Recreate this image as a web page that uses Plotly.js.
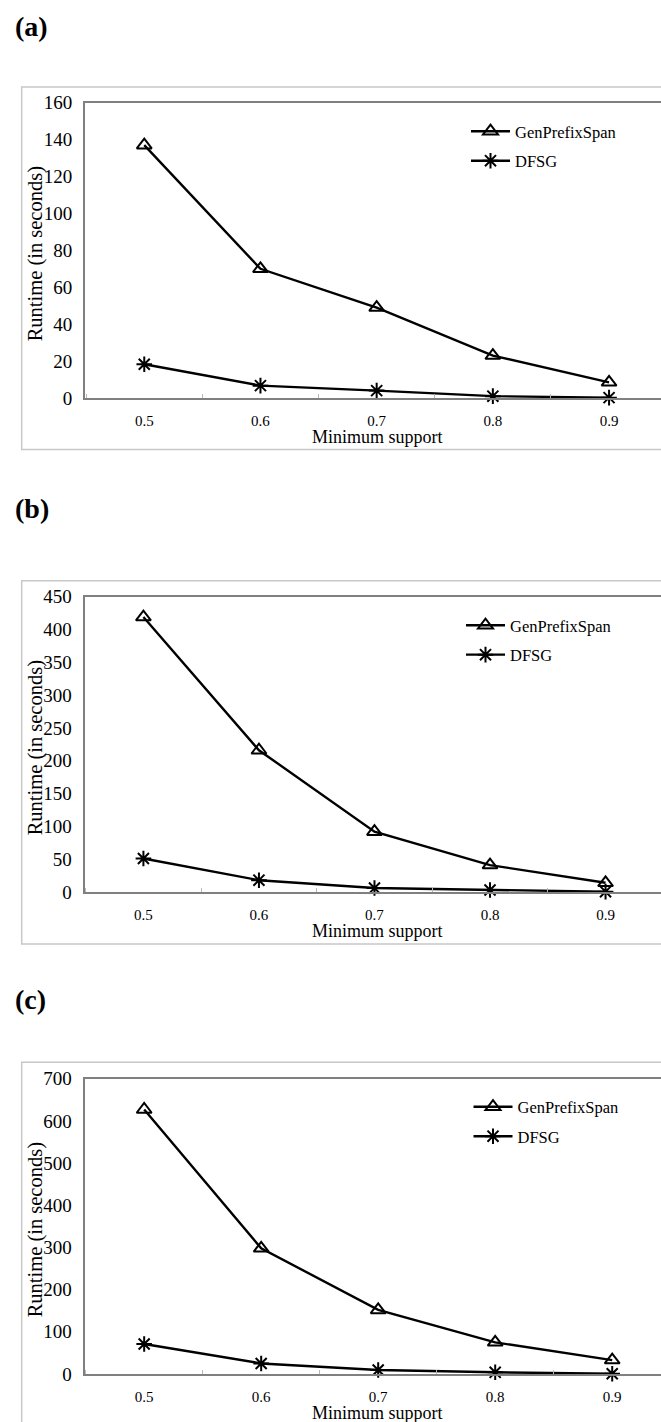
<!DOCTYPE html>
<html>
<head>
<meta charset="utf-8">
<script src="https://cdn.plot.ly/plotly-3.0.1.min.js"></script>
<style>
  html, body { margin: 0; padding: 0; background: #fff; }
  #chart { width: 661px; height: 1422px; }
</style>
</head>
<body>
<div id="chart"></div>
<script>
// ---- data ----
const categories = ['0.5', '0.6', '0.7', '0.8', '0.9'];
const seriesNames = ['GenPrefixSpan', 'DFSG'];
const genPrefixSpanA = [137, 70, 49, 23, 8.5];
const dfsgA = [18.3, 6.7, 4, 1, 0.2];
const genPrefixSpanB = [419, 216, 92, 41, 14];
const dfsgB = [51, 18, 6, 3, 0.5];
const genPrefixSpanC = [627, 298, 152, 75, 33];
const dfsgC = [71, 25, 9.5, 4, 0.5];
const panelLabels = ['(a)', '(b)', '(c)'];
const yMaxes = [160, 450, 700];
const yTickSteps = [20, 50, 100];
const xTitle = 'Minimum support';
const yTitle = 'Runtime (in seconds)';

// ---- layout helpers (pixel -> paper) ----
const W = 661, H = 1422;
const px = v => v / W;
const py = v => 1 - v / H;
const FONT = 'Liberation Serif';

const seriesData = [
  [genPrefixSpanA, dfsgA],
  [genPrefixSpanB, dfsgB],
  [genPrefixSpanC, dfsgC]
];

// panel geometry in pixels
const panels = [
  { left: 85,   top: 102.7,  bottom: 398,  xr: [-0.51, 4.447], frameTop: 87,    frameBottom: 449.5, labelY: 26.5, legX: 466,   legY: 114 },
  { left: 84.5, top: 596.7,  bottom: 892,  xr: [-0.51, 4.48],  frameTop: 580.7, frameBottom: 944,   labelY: 508,  legX: 461,   legY: 608 },
  { left: 84.5, top: 1078.7, bottom: 1374, xr: [-0.51, 4.417], frameTop: 1062.3, frameBottom: 1440, labelY: 999,  legX: 468.5, legY: 1089.5 }
];

const markerSymbols = ['triangle-up-open', 'asterisk-open'];

const traces = [];
const layout = {
  width: W, height: H,
  margin: { l: 0, r: 0, t: 0, b: 0 },
  paper_bgcolor: '#ffffff',
  plot_bgcolor: '#ffffff',
  font: { family: FONT, color: '#000' },
  annotations: [],
  shapes: []
};

panels.forEach((p, i) => {
  const n = i === 0 ? '' : String(i + 1);
  const xa = 'x' + n, ya = 'y' + n;
  const legName = 'legend' + n;
  seriesData[i].forEach((vals, s) => {
    traces.push({
      type: 'scatter',
      mode: 'lines+markers',
      x: categories,
      y: vals,
      name: seriesNames[s],
      legendgroup: 'g' + i + '_' + s,
      xaxis: xa, yaxis: ya,
      legend: legName,
      line: { color: '#000', width: 2.4 },
      marker: { symbol: markerSymbols[s], size: 13, color: '#000', line: { color: '#000', width: 2 } },
      cliponaxis: false,
      hoverinfo: 'skip'
    });
  });

  layout['xaxis' + n] = {
    type: 'category',
    domain: [px(p.left), 1],
    anchor: ya,
    range: p.xr,
    showline: true, linecolor: '#808080', linewidth: 2, mirror: true,
    ticks: 'inside', ticklen: 4, tickcolor: '#b8b8b8', tickwidth: 1,
    tickson: 'boundaries',
    showgrid: false, zeroline: false,
    tickfont: { family: FONT, size: 15, color: '#000' },
    ticklabelstandoff: 8,
    fixedrange: true
  };
  layout['yaxis' + n] = {
    domain: [py(p.bottom), py(p.top)],
    anchor: xa,
    range: [0, yMaxes[i]],
    dtick: yTickSteps[i],
    tick0: 0,
    showline: true, linecolor: '#808080', linewidth: 2,
    ticks: '',
    showgrid: false, zeroline: false,
    tickfont: { family: FONT, size: 19, color: '#000' },
    ticklabelstandoff: 7,
    fixedrange: true
  };
  layout[legName] = {
    x: px(p.legX), y: py(p.legY),
    xanchor: 'left', yanchor: 'top',
    bgcolor: 'rgba(0,0,0,0)',
    borderwidth: 0,
    font: { family: FONT, size: 16.5, color: '#000' },
    itemwidth: 39,
    traceorder: 'grouped',
    tracegroupgap: 5
  };

  // panel label
  layout.annotations.push({
    text: '<b>' + panelLabels[i] + '</b>',
    xref: 'paper', yref: 'paper',
    x: px(13), y: py(p.labelY),
    xanchor: 'left', yanchor: 'middle',
    showarrow: false,
    font: { family: FONT, size: 28, color: '#000' }
  });
  // x title
  layout.annotations.push({
    text: xTitle,
    xref: 'paper', yref: 'paper',
    x: px(377), y: py(p.bottom + 39),
    xanchor: 'center', yanchor: 'middle',
    showarrow: false,
    font: { family: FONT, size: 18, color: '#000' }
  });
  // y title
  layout.annotations.push({
    text: yTitle,
    xref: 'paper', yref: 'paper',
    x: px(35), y: py((p.top + p.bottom) / 2 + 4),
    xanchor: 'center', yanchor: 'middle',
    textangle: -90,
    showarrow: false,
    font: { family: FONT, size: 20.5, color: '#000' }
  });
  // outer frame
  layout.shapes.push({
    type: 'rect', xref: 'paper', yref: 'paper', layer: 'below',
    x0: px(21.7), x1: 1.05, y0: py(p.frameBottom), y1: py(p.frameTop),
    line: { color: '#c8c8c8', width: 1.5 }, fillcolor: 'rgba(0,0,0,0)'
  });
});

Plotly.newPlot('chart', traces, layout, { displayModeBar: false, staticPlot: true });
</script>
</body>
</html>
